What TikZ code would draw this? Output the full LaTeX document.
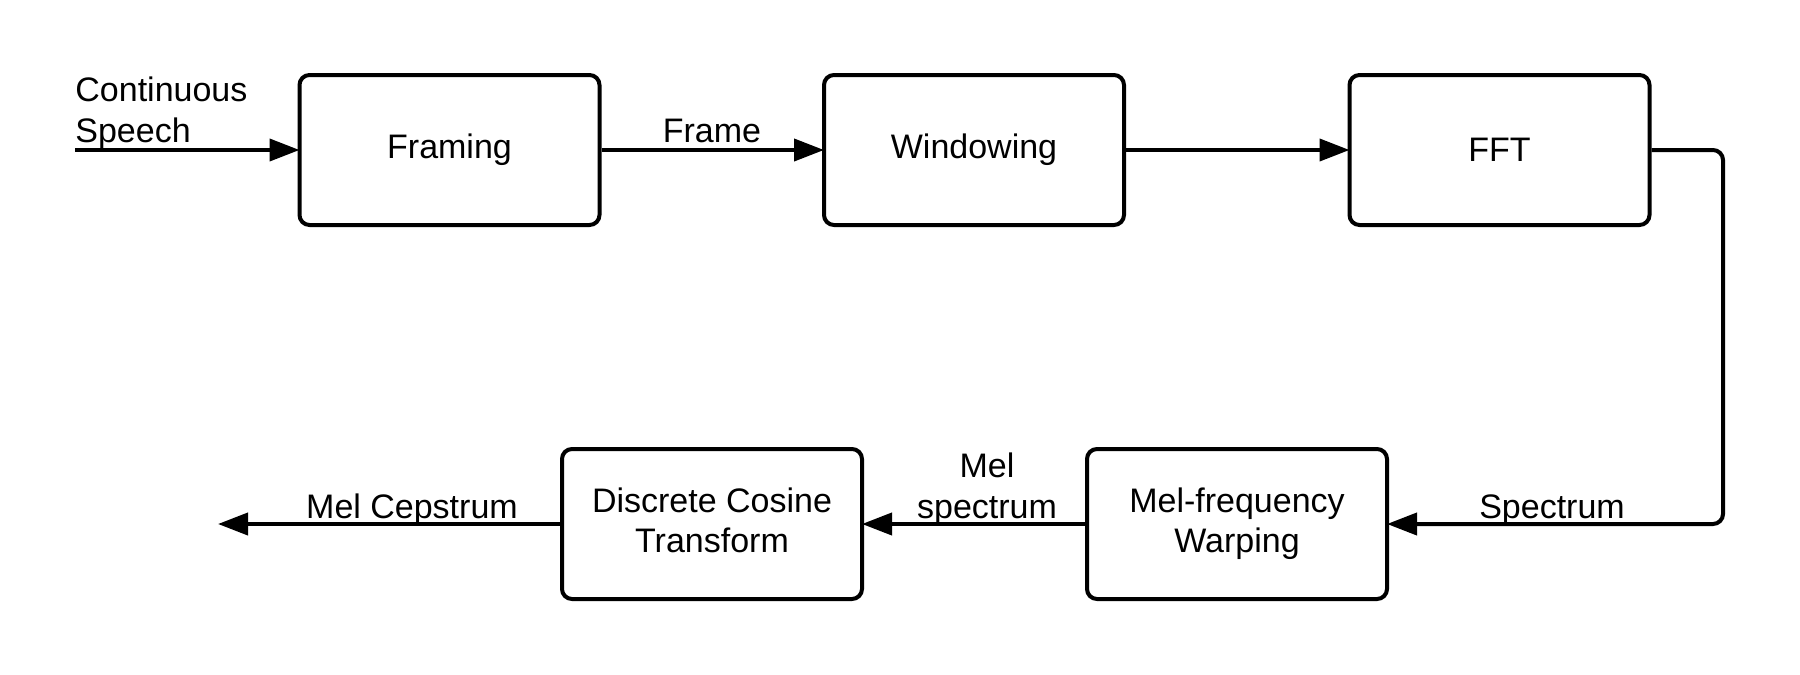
\documentclass[tikz,border=0pt]{standalone}
\usepackage{fontspec}
\setmainfont{Liberation Sans}
\usetikzlibrary{arrows.meta}
\newcommand{\twolines}[2]{\raisebox{4pt}{\begin{tabular}{@{}c@{}}#1\\#2\end{tabular}}}
\begin{document}
\begin{tikzpicture}[x=0.5pt,y=-0.5pt,
  box/.style={draw,line width=2pt,rounded corners=5pt,minimum width=150pt,minimum height=75pt,
    align=center,font=\fontsize{17}{20}\selectfont,inner sep=0pt},
  conn/.style={line width=2pt,-{Triangle[length=15pt,width=11pt]},shorten >=-1pt},
  lbl/.style={font=\fontsize{17}{20.5}\selectfont,inner sep=0pt}]
\useasboundingbox (0,0) rectangle (1800,675);
\node[box] (framing) at (449.5,150) {Framing};
\node[box] (windowing) at (974,150) {Windowing};
\node[box] (fft) at (1499.5,150) {FFT};
\node[box] (melw) at (1237,524) {\twolines{Mel-frequency}{Warping}};
\node[box] (dct) at (712,524) {\twolines{Discrete Cosine}{Transform}};
\coordinate (in) at (75,150);
\coordinate (rt) at (1723,150);
\coordinate (rb) at (1723,524);
\coordinate (out) at (220,524);
\draw[conn] (in) -- (framing);
\draw[conn] (framing) -- (windowing);
\draw[conn] (windowing) -- (fft);
\draw[conn,rounded corners=5pt] (fft.east) -- (rt) -- (rb) -- (melw.east);
\draw[conn] (melw) -- (dct);
\draw[conn] (dct) -- (out);
\node[lbl,anchor=base west,align=left] (lin) at (75,142) {Continuous\\Speech};
\node[lbl,anchor=base] (lframe) at (712,142) {Frame};
\node[lbl,anchor=base] (lspec) at (1552,518) {Spectrum};
\node[lbl,anchor=base,align=center] (lmel) at (987,518) {Mel\\spectrum};
\node[lbl,anchor=base] (lcep) at (412,518) {Mel Cepstrum};
\end{tikzpicture}
\end{document}
